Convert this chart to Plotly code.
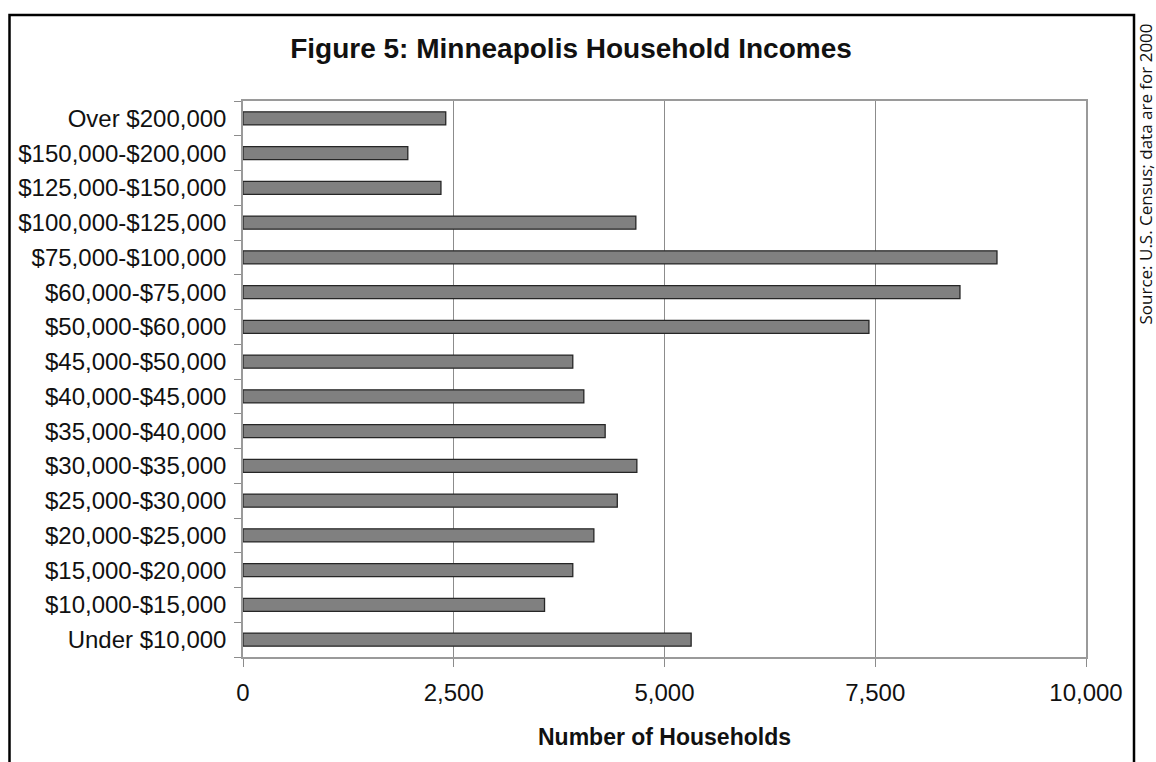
import plotly.graph_objects as go

# ---- data (bottom to top) ----
categories = [
    "Under $10,000", "$10,000-$15,000", "$15,000-$20,000", "$20,000-$25,000",
    "$25,000-$30,000", "$30,000-$35,000", "$35,000-$40,000", "$40,000-$45,000",
    "$45,000-$50,000", "$50,000-$60,000", "$60,000-$75,000", "$75,000-$100,000",
    "$100,000-$125,000", "$125,000-$150,000", "$150,000-$200,000", "Over $200,000",
]
households = [5316, 3577, 3912, 4162, 4440, 4672, 4296, 4043, 3912,
              7425, 8505, 8944, 4660, 2348, 1955, 2405]
x_ticks = [0, 2500, 5000, 7500, 10000]
x_tick_labels = ["0", "2,500", "5,000", "7,500", "10,000"]

# ---- layout geometry (pixels) ----
W, H = 1156, 762
L, R, T, B = 243, 1086, 101, 657

def px(x):
    return (x - L) / (R - L)

def py(y):
    return (B - y) / (B - T)

FONT = "Arial, Liberation Sans, sans-serif"

fig = go.Figure(go.Bar(
    x=households, y=categories, orientation="h",
    width=0.375,
    marker=dict(color="#808080", line=dict(color="#262626", width=1.3)),
    hoverinfo="x+y",
))

fig.update_layout(
    width=W, height=H,
    margin=dict(l=L, r=W - R, t=T, b=H - B),
    paper_bgcolor="white", plot_bgcolor="white",
    showlegend=False,
    title=dict(text="<b>Figure 5: Minneapolis Household Incomes</b>",
               x=571 / W, y=1 - 48 / H, xref="container", yref="container",
               xanchor="center", yanchor="middle",
               font=dict(family=FONT, size=28, color="#111")),
    font=dict(family=FONT, color="#111"),
)

fig.update_xaxes(
    range=[0, 10000], tickvals=x_ticks, ticktext=x_tick_labels,
    showgrid=True, gridcolor="#8c8c8c", gridwidth=1,
    showline=True, linecolor="#9a9a9a", linewidth=1.5, mirror=True,
    ticks="outside", ticklen=8, tickcolor="#8c8c8c",
    tickfont=dict(size=24, family=FONT, color="#111"),
    ticklabelstandoff=5,
    zeroline=False,
    title=dict(text="<b>Number of Households</b>", standoff=24,
               font=dict(size=23, family=FONT, color="#111")),
)
fig.update_yaxes(
    type="category", categoryorder="array", categoryarray=categories,
    showgrid=False,
    showline=True, linecolor="#9a9a9a", linewidth=1.5, mirror=True,
    ticks="outside", ticklen=7, tickcolor="#8c8c8c", tickson="boundaries",
    tickfont=dict(size=24, family=FONT, color="#111"),
    ticklabelstandoff=10,
)

# outer frame
fig.add_shape(type="rect", xref="paper", yref="paper",
              x0=px(9.5), x1=px(1134), y0=py(790), y1=py(15),
              line=dict(color="black", width=2.5), fillcolor="rgba(0,0,0,0)",
              layer="above")

# rotated source note on the right edge
fig.add_annotation(
    text="Source: U.S. Census; data are for 2000",
    xref="paper", yref="paper", x=px(1145), y=py(327),
    xanchor="center", yanchor="bottom", textangle=-90, showarrow=False,
    font=dict(family="Open Sans, Noto Sans, sans-serif", size=17, color="#111"),
)

fig.write_html("out.html")
